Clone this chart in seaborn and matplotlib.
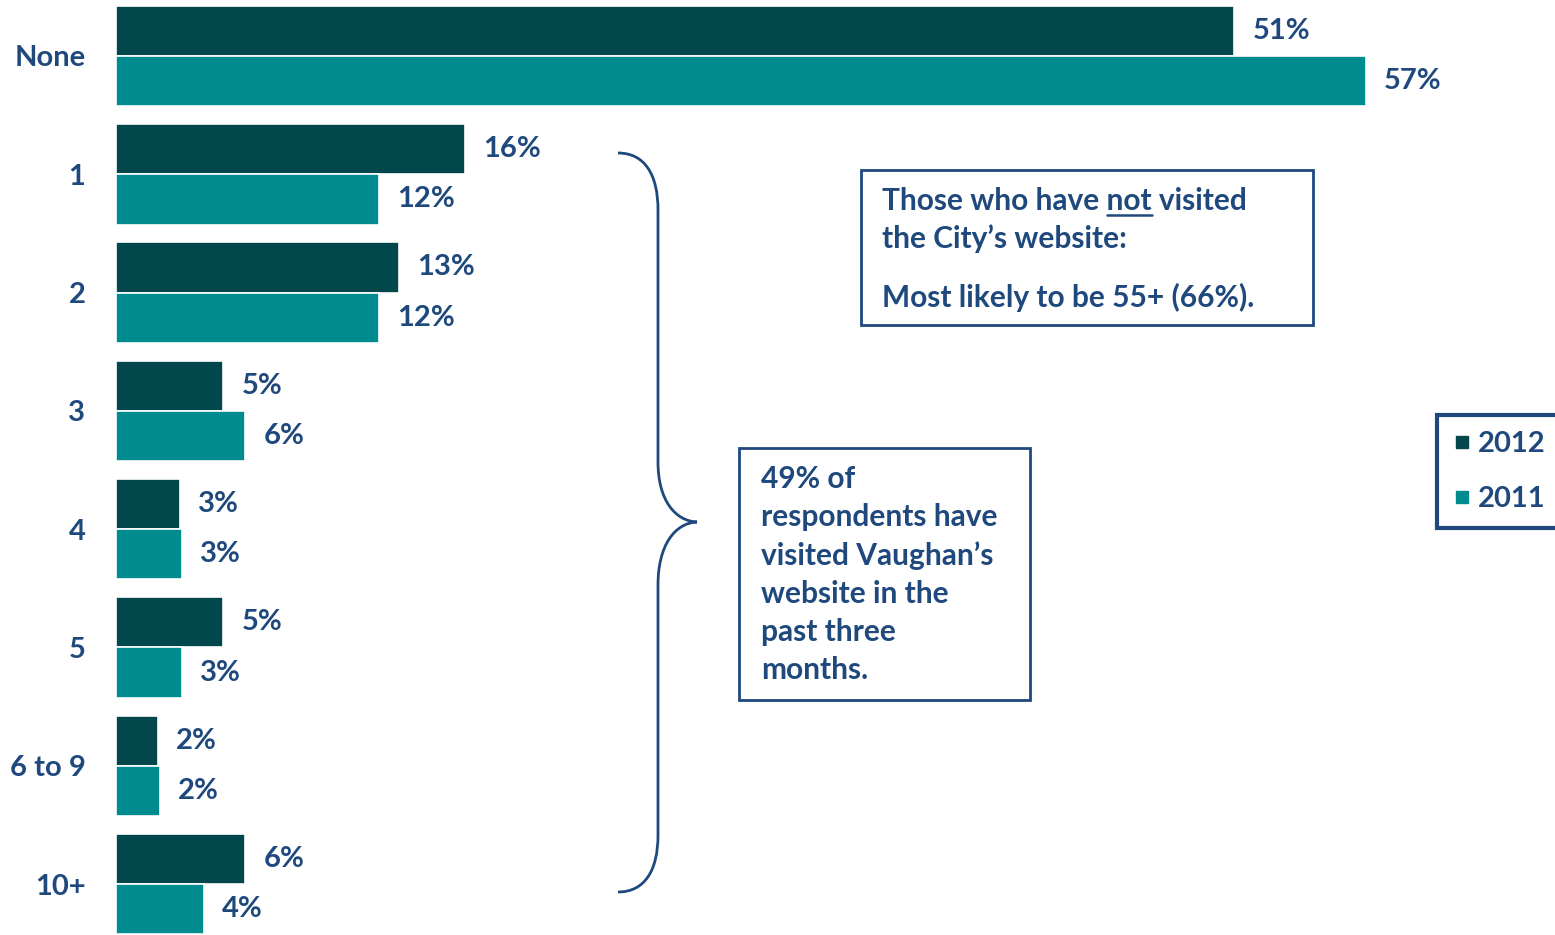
import matplotlib
matplotlib.use("Agg")
import matplotlib.pyplot as plt
import seaborn as sns
import pandas as pd
from matplotlib.path import Path
from matplotlib.patches import PathPatch, Rectangle
from matplotlib.lines import Line2D

categories = ["None", "1", "2", "3", "4", "5", "6 to 9", "10+"]
years = ["2012", "2011"]
values_2012 = [51.0, 15.9, 12.9, 4.9, 2.9, 4.9, 1.9, 5.9]
values_2011 = [57.0, 12.0, 12.0, 5.9, 3.0, 3.0, 2.0, 4.0]

note_top = ["Those who have not visited", "the City\u2019s website:", "Most likely to be 55+ (66%)."]
note_side = ["49% of", "respondents have", "visited Vaughan\u2019s", "website in the", "past three", "months."]

DARK = "#02474B"
TEAL = "#008C8F"
NAVY = "#1F497D"

sns.set_theme(style="white")
plt.rcParams["font.family"] = ["Lato", "DejaVu Sans"]
plt.rcParams["font.weight"] = "bold"

df = pd.DataFrame({
    "category": categories * 2,
    "year": [years[0]] * len(categories) + [years[1]] * len(categories),
    "value": values_2012 + values_2011,
})

W, H = 1555, 935
fig = plt.figure(figsize=(W / 100, H / 100), dpi=100)
ax = fig.add_axes([116 / W, 0, 1 - 116 / W, 1])

sns.barplot(data=df, y="category", x="value", hue="year", hue_order=years,
            order=categories, palette=[DARK, TEAL], saturation=1, orient="h",
            width=0.85, edgecolor="white", linewidth=1.2, ax=ax, legend=False)

px_per_unit = 21.93
ax.set_xlim(0, (W - 116) / px_per_unit)
spacing = 118.3
ax.set_ylim((H - 56) / spacing, -56 / spacing)

for cont in ax.containers:
    ax.bar_label(cont, fmt="{:.0f}%", padding=13, color=NAVY, fontsize=21,
                 fontweight="bold")

ax.set_xlabel("")
ax.set_ylabel("")
ax.set_xticks([])
ax.tick_params(axis="y", length=0, pad=22, labelsize=21, labelcolor=NAVY)
for lab in ax.get_yticklabels():
    lab.set_fontweight("bold")
for s in ax.spines.values():
    s.set_visible(False)

# Legend
handles = [Line2D([], [], marker="s", linestyle="", markersize=9, color=c) for c in (DARK, TEAL)]
leg = fig.legend(handles, years, loc="upper right",
                 bbox_to_anchor=(1562 / W, 1 - 415 / H), borderaxespad=0,
                 frameon=True, fancybox=False, framealpha=1,
                 handlelength=0.6, handletextpad=0.25, labelspacing=1.0,
                 borderpad=0.55, prop={"size": 21, "weight": "bold"})
leg.get_frame().set_edgecolor(NAVY)
leg.get_frame().set_linewidth(3)
for t in leg.get_texts():
    t.set_color(NAVY)

# Overlay for annotations (pixel coordinates)
ov = fig.add_axes([0, 0, 1, 1], zorder=5)
ov.set_xlim(0, W)
ov.set_ylim(H, 0)
ov.axis("off")
ov.patch.set_alpha(0)

verts = [(618, 153), (645, 153), (658, 175), (658, 210),
         (658, 462),
         (658, 500), (675, 521), (697, 522),
         (675, 523), (658, 545), (658, 585),
         (658, 835),
         (658, 870), (645, 892), (618, 892)]
codes = [Path.MOVETO, Path.CURVE4, Path.CURVE4, Path.CURVE4,
         Path.LINETO,
         Path.CURVE4, Path.CURVE4, Path.CURVE4,
         Path.CURVE4, Path.CURVE4, Path.CURVE4,
         Path.LINETO,
         Path.CURVE4, Path.CURVE4, Path.CURVE4]
ov.add_patch(PathPatch(Path(verts, codes), facecolor="none", edgecolor=NAVY, lw=2))

ov.add_patch(Rectangle((861, 170), 452, 155, facecolor="white", edgecolor=NAVY, lw=2))
ov.add_patch(Rectangle((739, 448), 291, 252, facecolor="white", edgecolor=NAVY, lw=2))

fs_note = 21.5
tops = [201, 239, 297]
for line, y in zip(note_top, tops):
    ov.text(882, y, line, color=NAVY, fontsize=fs_note, fontweight="bold", va="center", ha="left")

# underline "not"
fig.canvas.draw()
r = fig.canvas.get_renderer()
probe1 = ov.text(882, 201, "Those who have not", fontsize=fs_note, fontweight="bold", va="center", alpha=0)
probe2 = ov.text(882, 201, "not", fontsize=fs_note, fontweight="bold", va="center", alpha=0)
x_end = probe1.get_window_extent(r).x1
x_start = x_end - probe2.get_window_extent(r).width
probe1.remove()
probe2.remove()
ov.plot([x_start, x_end], [215, 215], color=NAVY, lw=1.8)

for i, line in enumerate(note_side):
    ov.text(761, 479 + 38.2 * i, line, color=NAVY, fontsize=fs_note, fontweight="bold",
            va="center", ha="left")

fig.savefig("out.png", dpi=100, facecolor="white")
